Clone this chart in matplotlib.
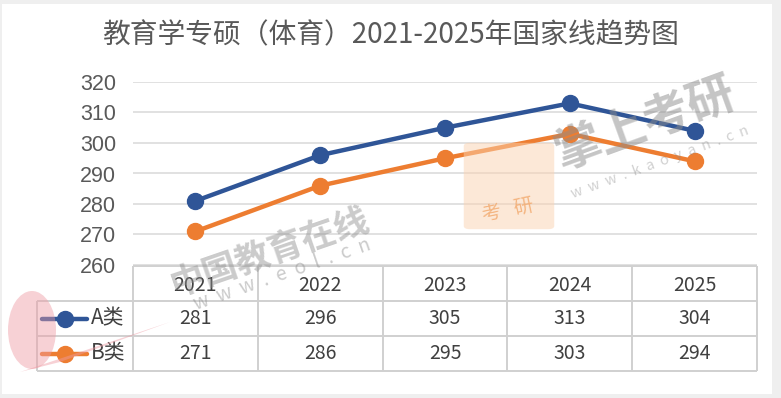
import matplotlib
matplotlib.use("Agg")
import matplotlib.pyplot as plt
from matplotlib.patches import Rectangle, FancyBboxPatch, Ellipse, Polygon

years = ["2021", "2022", "2023", "2024", "2025"]
series_names = ["A类", "B类"]
a_values = [281, 296, 305, 313, 304]
b_values = [271, 286, 295, 303, 294]
yticks = [260, 270, 280, 290, 300, 310, 320]
title = "教育学专硕（体育）2021-2025年国家线趋势图"

colors = ["#2F5597", "#ED7D31"]
text_color = "#595959"
cell_color = "#404040"
grid_color = "#D9D9D9"
border_color = "#D0D0D0"

W, H = 781, 398
fig = plt.figure(figsize=(W / 100, H / 100), dpi=100)
fig.patch.set_facecolor("#EFEFEF")
fig.patches.append(Rectangle((2 / W, 4 / H), (772 - 2) / W, (394 - 4) / H,
                             transform=fig.transFigure, facecolor="white",
                             edgecolor="none", zorder=-10))

cjk = ["Noto Sans CJK SC", "DejaVu Sans"]

def fx(px):
    return px / W

def fy(py):
    return 1 - py / H

# ---- main plot axes ----
left, right, top, bottom = 133, 757, 82, 265
ax = fig.add_axes([fx(left), fy(bottom), fx(right - left), fy(top) - fy(bottom)])
xs = list(range(len(years)))
for vals, c in zip([a_values, b_values], colors):
    ax.plot(xs, vals, color=c, lw=3.2, marker="o", markersize=11.5,
            solid_capstyle="round", zorder=3, clip_on=False)
ax.set_xlim(-0.5, len(years) - 0.5)
ax.set_ylim(yticks[0], yticks[-1])
ax.set_yticks(yticks)
ax.set_yticklabels([str(t) for t in yticks], fontsize=15.5,
                   family=["Liberation Sans", "DejaVu Sans"], color=text_color)
ax.tick_params(axis="y", length=0, pad=12)
ax.set_xticks([])
ax.grid(axis="y", color=grid_color, lw=1.1)
ax.set_axisbelow(True)
for s in ax.spines.values():
    s.set_visible(False)
ax.patch.set_alpha(0)

fig.text(0.5, fy(35), title, ha="center", va="center", fontsize=20,
         family=cjk, color=text_color)

# ---- data table ----
col_w = (right - left) / len(years)
tleft, ttop, tbottom = 37, 266, 371
x0 = -0.5 - (left - tleft) / col_w
tax = fig.add_axes([fx(tleft), fy(tbottom), fx(right - tleft), fy(ttop) - fy(tbottom)])
tax.set_xlim(x0, len(years) - 0.5)
tax.set_ylim(3, 0)
tax.axis("off")

lw_b = 1.4
tax.hlines(0, -0.5, len(years) - 0.5, color=border_color, lw=lw_b, clip_on=False)
for r in [1, 2, 3]:
    tax.hlines(r, x0, len(years) - 0.5, color=border_color, lw=lw_b, clip_on=False)
for c in range(len(years) + 1):
    tax.vlines(c - 0.5, 0, 3, color=border_color, lw=lw_b, clip_on=False)
tax.vlines(x0, 1, 3, color=border_color, lw=lw_b, clip_on=False)

for i, y in enumerate(years):
    tax.text(i, 0.55, y, ha="center", va="center", fontsize=14,
             family=cjk, color=cell_color)
for r, (name, vals, c) in enumerate(zip(series_names, [a_values, b_values], colors)):
    yy = r + 1.5
    for i, v in enumerate(vals):
        tax.text(i, yy, str(v), ha="center", va="center", fontsize=14,
                 family=cjk, color=cell_color)
    lx0 = x0 + (42 - tleft) / col_w
    lx1 = x0 + (87 - tleft) / col_w
    tax.plot([lx0, lx1], [yy, yy], color=c, lw=3.2, solid_capstyle="round",
             clip_on=False, zorder=7)
    tax.plot([(lx0 + lx1) / 2], [yy], color=c, marker="o", markersize=11.5,
             clip_on=False, zorder=7)
    tax.text(x0 + (91 - tleft) / col_w, yy, name, ha="left", va="center",
             fontsize=15, family=cjk, color=cell_color)

# ---- watermarks ----
wm = "#8C8C8C"
fig.patches.append(Ellipse((fx(32), fy(330)), 48 / W, 78 / H, angle=0,
                           transform=fig.transFigure, facecolor="#EE9AA3",
                           edgecolor="none", alpha=0.45, zorder=5))
fig.patches.append(Polygon([(fx(20), fy(372)), (fx(170), fy(322)),
                            (fx(60), fy(362))], closed=True,
                           transform=fig.transFigure, facecolor="#EE9AA3",
                           edgecolor="none", alpha=0.45, zorder=5))
fig.patches.append(FancyBboxPatch((fx(470), fy(226)), 78 / W, 80 / H,
                                  boxstyle="round,pad=0.008",
                                  transform=fig.transFigure,
                                  facecolor="#FBD3B0", edgecolor="none",
                                  alpha=0.5, zorder=5))
fig.text(fx(508), fy(210), "考   研", ha="center", va="center", fontsize=14,
         family=cjk, color="#F2A86B", rotation=12, alpha=0.8, zorder=6)
fig.text(fx(270), fy(252), "中国教育在线", ha="center", va="center",
         fontsize=25, fontweight="bold", family=cjk, color=wm, rotation=19,
         alpha=0.45, zorder=6)
fig.text(fx(282), fy(275), "w  w  w  .  e  o  l  .  c  n", ha="center",
         va="center", fontsize=14, family=cjk, color=wm, rotation=19,
         alpha=0.45, zorder=6)
fig.text(fx(645), fy(123), "掌上考研", ha="center", va="center",
         fontsize=34, fontweight="bold", family=cjk, color=wm, rotation=20,
         alpha=0.5, zorder=6)
fig.text(fx(660), fy(162), "w  w  w  .  k  a  o  y  a  n  .  c  n",
         ha="center", va="center", fontsize=10.5, family=cjk, color=wm,
         rotation=20, alpha=0.4, zorder=6)

fig.savefig("out.png", dpi=100, facecolor=fig.get_facecolor())
